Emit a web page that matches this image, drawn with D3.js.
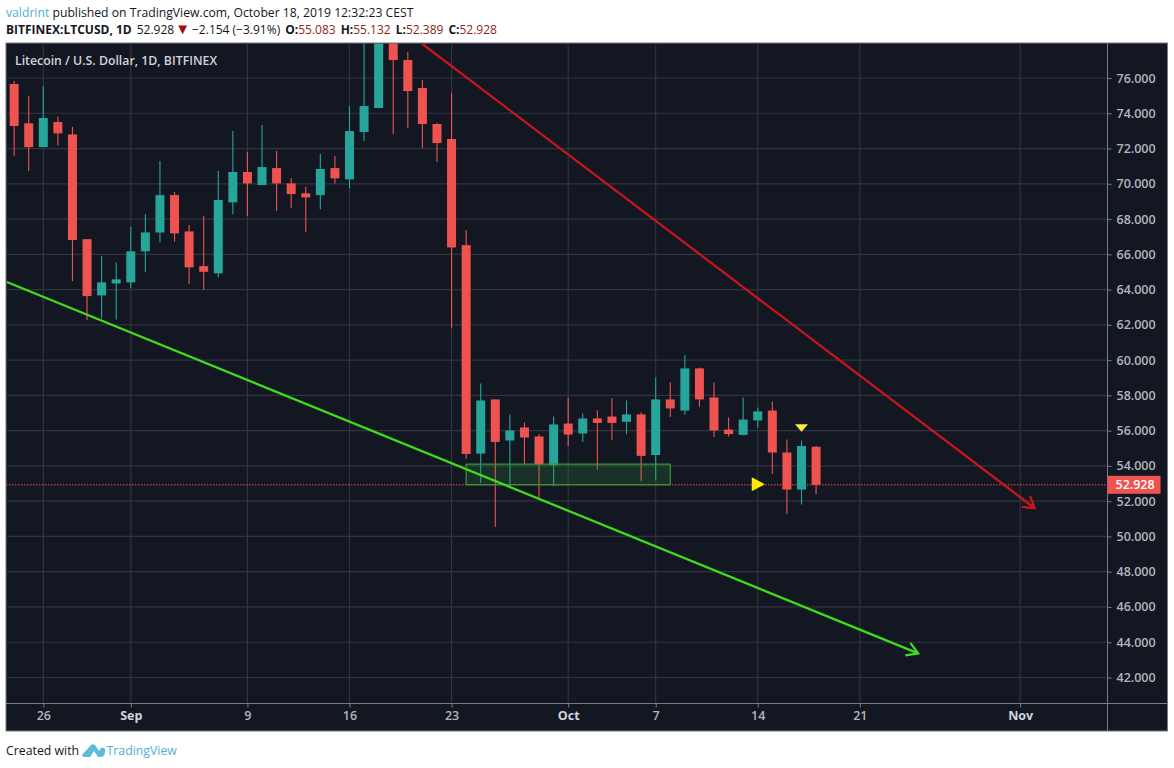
<!DOCTYPE html>
<html>
<head>
<meta charset="utf-8">
<script src="https://cdn.jsdelivr.net/npm/d3@7"></script>
<style>
  html, body { margin: 0; padding: 0; background: #fff; }
  svg { display: block; }
  text { font-family: "Open Sans", "Noto Sans", sans-serif; }
</style>
</head>
<body>
<svg id="chart" width="1174" height="768"></svg>
<script>
// one candle per day, starting 24 Aug 2019
var firstDay = "2019-08-24";
var opens = [75.66, 73.43, 72.08, 73.50, 72.80, 66.86, 63.67, 64.35, 64.41, 66.17, 67.24, 69.36, 67.30, 65.33, 64.92, 68.95,
  70.67, 69.93, 70.89, 70.02, 69.46, 69.36, 70.89, 70.25, 72.94, 74.30, 78.90, 77.02, 75.43, 73.39, 72.54, 66.52,
  54.70, 57.77, 55.44, 56.18, 55.67, 54.04, 56.40, 55.84, 56.69, 56.80, 56.50, 56.92, 54.62, 57.77, 57.14, 59.53,
  57.88, 56.06, 55.76, 56.58, 57.14, 54.76, 52.66, 55.083];
var highs = [75.83, 74.98, 75.55, 73.80, 73.22, 66.86, 65.90, 65.54, 67.55, 68.27, 71.29, 69.53, 67.66, 68.17, 70.72, 72.99,
  71.80, 73.33, 71.86, 70.31, 69.83, 71.69, 71.57, 74.41, 78.72, 80.20, 80.00, 77.48, 75.89, 73.43, 75.17, 67.37,
  58.67, 57.77, 56.92, 56.46, 55.80, 56.80, 57.88, 56.97, 57.16, 57.84, 57.71, 57.05, 59.01, 58.73, 60.28, 59.58,
  58.73, 56.75, 57.88, 57.31, 57.65, 55.50, 55.44, 55.132];
var lows = [71.58, 70.72, 72.08, 72.18, 64.48, 62.27, 62.36, 62.31, 64.07, 65.00, 66.68, 66.73, 64.31, 63.97, 64.69, 68.27,
  68.17, 69.93, 68.47, 68.61, 67.26, 68.55, 70.02, 69.74, 72.43, 74.30, 72.82, 73.16, 72.03, 71.23, 61.81, 54.40,
  53.03, 50.54, 52.89, 54.10, 52.21, 52.85, 55.13, 55.36, 53.79, 55.46, 55.80, 53.13, 53.19, 56.78, 56.92, 57.35,
  55.64, 55.67, 55.72, 56.16, 53.54, 51.27, 51.81, 52.389];
var closes = [73.28, 72.08, 73.73, 72.86, 66.81, 63.63, 64.41, 64.58, 66.17, 67.24, 69.36, 67.19, 65.26, 65.01, 69.08, 70.67,
  70.02, 70.95, 70.02, 69.42, 69.23, 70.84, 70.31, 72.99, 74.41, 78.90, 77.02, 75.26, 73.39, 72.31, 66.39, 54.68,
  57.71, 55.36, 56.01, 55.61, 54.10, 56.35, 55.78, 56.69, 56.44, 56.44, 56.92, 54.57, 57.77, 57.26, 59.53, 57.77,
  56.01, 55.81, 56.63, 57.09, 54.76, 52.66, 55.13, 52.928];

var priceTicks = [76, 74, 72, 70, 68, 66, 64, 62, 60, 58, 56, 54, 52, 50, 48, 46, 44, 42];
var lastPrice = 52.928;

var dateTicks = ["2019-08-26", "2019-09-01", "2019-09-09", "2019-09-16", "2019-09-23", "2019-10-01", "2019-10-07", "2019-10-14", "2019-10-21", "2019-11-01"];
var dateLabels = ["26", "Sep", "9", "16", "23", "Oct", "7", "14", "21", "Nov"];

// drawings on the chart, as [date, price]
var redLine = [["2019-09-21", 77.93], ["2019-11-02", 51.60]];
var greenLine = [["2019-08-23T12:00Z", 64.43], ["2019-10-25", 43.37]];
var boxDates = ["2019-09-24", "2019-10-08"];
var boxPrices = [54.10, 52.93];
var rightMarker = ["2019-10-14", 52.96];
var downMarker = ["2019-10-17", 56.17];

var upColor = "#26a69a", downColor = "#ef5350", bg = "#131722", gridColor = "#2f3441", axisColor = "#787b86", labelColor = "#b2b5be";

var left = 6, right = 1167.5, top_ = 43, bottom = 731, axisX = 1107.5, axisY = 703.5;

var svg = d3.select("#chart");
var parseDay = function (s) { return new Date(s.length > 10 ? s : s + "T00:00Z"); };
var DAY = 86400000;

var x = d3.scaleUtc().domain([parseDay("2019-08-26"), parseDay("2019-11-01")]).range([43.3, 1020.2]);
var y = d3.scaleLinear().domain([76, 42]).range([78, 677.5]);

// panel
svg.append("rect").attr("x", left).attr("y", top_).attr("width", right - left).attr("height", bottom - top_)
  .attr("fill", bg).attr("stroke", axisColor).attr("stroke-width", 1);

svg.append("clipPath").attr("id", "plot").append("rect")
  .attr("x", left + 0.5).attr("y", top_ + 0.5).attr("width", axisX - left - 1).attr("height", axisY - top_ - 1);

// grid
var grid = svg.append("g");
grid.selectAll("line.h").data(priceTicks).enter().append("line").attr("class", "h")
  .attr("x1", left).attr("x2", axisX).attr("y1", function (d) { return y(d); }).attr("y2", function (d) { return y(d); })
  .attr("stroke", gridColor).attr("stroke-width", 1.2);
grid.selectAll("line.v").data(dateTicks).enter().append("line").attr("class", "v")
  .attr("x1", function (d) { return x(parseDay(d)); }).attr("x2", function (d) { return x(parseDay(d)); })
  .attr("y1", top_).attr("y2", axisY)
  .attr("stroke", gridColor).attr("stroke-width", 1.2);

// axes
var yAxis = d3.axisRight(y).tickValues(priceTicks).tickFormat(d3.format(".3f")).tickSize(4).tickPadding(5);
var yG = svg.append("g").attr("transform", "translate(" + axisX + ",0)").call(yAxis);
yG.select(".domain").remove();
yG.selectAll("line").attr("stroke", axisColor);
yG.selectAll("text").attr("fill", labelColor).attr("font-size", 12.5).attr("font-weight", 600);
svg.append("line").attr("x1", axisX).attr("x2", axisX).attr("y1", top_).attr("y2", bottom).attr("stroke", axisColor);
svg.append("line").attr("x1", left).attr("x2", right).attr("y1", axisY).attr("y2", axisY).attr("stroke", axisColor);

var xAxis = d3.axisBottom(x).tickValues(dateTicks.map(parseDay))
  .tickFormat(function (d, i) { return dateLabels[i]; }).tickSize(4).tickPadding(4);
var xG = svg.append("g").attr("transform", "translate(0," + axisY + ")").call(xAxis);
xG.select(".domain").remove();
xG.selectAll("line").attr("stroke", axisColor);
xG.selectAll("text").attr("fill", function (d, i) { return isNaN(+dateLabels[i]) ? "#d1d4dc" : labelColor; })
  .attr("font-size", 12.5).attr("font-weight", function (d, i) { return isNaN(+dateLabels[i]) ? 700 : 600; });

// last price line
var plot = svg.append("g").attr("clip-path", "url(#plot)");
plot.append("line").attr("x1", left).attr("x2", axisX).attr("y1", y(lastPrice)).attr("y2", y(lastPrice))
  .attr("stroke", downColor).attr("stroke-dasharray", "1.5 1.5");

// candles
var candles = opens.map(function (o, i) {
  return { date: new Date(parseDay(firstDay).getTime() + i * DAY), o: o, h: highs[i], l: lows[i], c: closes[i] };
});
var candle = plot.selectAll("g.candle").data(candles).enter().append("g").attr("class", "candle");
candle.append("line")
  .attr("x1", function (d) { return x(d.date); }).attr("x2", function (d) { return x(d.date); })
  .attr("y1", function (d) { return y(d.h); }).attr("y2", function (d) { return y(d.l); })
  .attr("stroke", function (d) { return d.c >= d.o ? upColor : downColor; })
  .attr("stroke-width", 1.1);
candle.append("rect")
  .attr("x", function (d) { return x(d.date) - 4.5; }).attr("width", 9)
  .attr("y", function (d) { return y(Math.max(d.o, d.c)); })
  .attr("height", function (d) { return Math.max(1, Math.abs(y(d.o) - y(d.c))); })
  .attr("fill", function (d) { return d.c >= d.o ? upColor : downColor; });

// green support box
plot.append("rect")
  .attr("x", x(parseDay(boxDates[0]))).attr("width", x(parseDay(boxDates[1])) - x(parseDay(boxDates[0])))
  .attr("y", y(boxPrices[0])).attr("height", y(boxPrices[1]) - y(boxPrices[0]))
  .attr("fill", "#2e9e3a").attr("fill-opacity", 0.2).attr("stroke", "#3a9a38").attr("stroke-width", 1.2);

// trend lines with open arrow heads
function arrowLine(points, color) {
  var x1 = x(parseDay(points[0][0])), y1 = y(points[0][1]);
  var x2 = x(parseDay(points[1][0])), y2 = y(points[1][1]);
  var a = Math.atan2(y2 - y1, x2 - x1), len = 13, spread = 0.55;
  plot.append("path")
    .attr("d", "M" + x1 + "," + y1 + "L" + x2 + "," + y2 +
      "M" + (x2 - len * Math.cos(a - spread)) + "," + (y2 - len * Math.sin(a - spread)) + "L" + x2 + "," + y2 +
      "L" + (x2 - len * Math.cos(a + spread)) + "," + (y2 - len * Math.sin(a + spread)))
    .attr("fill", "none").attr("stroke", color).attr("stroke-width", 2.3);
}
arrowLine(redLine, "#c4161c");
arrowLine(greenLine, "#3fdc1e");

// yellow markers
plot.append("path").attr("d", "M-6,-7L7,0L-6,7Z")
  .attr("transform", "translate(" + x(parseDay(rightMarker[0])) + "," + y(rightMarker[1]) + ")")
  .attr("fill", "#ffeb00");
plot.append("path").attr("d", "M-6.5,-3.5L6.5,-3.5L0,4Z")
  .attr("transform", "translate(" + x(parseDay(downMarker[0])) + "," + y(downMarker[1]) + ")")
  .attr("fill", "#ffeb3b");

// price tag
svg.append("rect").attr("x", axisX).attr("y", y(lastPrice) - 9).attr("width", 53).attr("height", 18).attr("fill", downColor);
svg.append("text").attr("x", axisX + 8).attr("y", y(lastPrice) + 4.5).attr("fill", "#fff")
  .attr("font-size", 12.5).attr("font-weight", 600).text(d3.format(".3f")(lastPrice));

// title inside the chart
svg.append("text").attr("x", 15).attr("y", 65).attr("fill", "#d1d4dc").attr("font-size", 12.3).attr("font-weight", 600)
  .text("Litecoin / U.S. Dollar, 1D, BITFINEX");

// header
var line1 = svg.append("text").attr("x", 6).attr("y", 17).attr("font-size", 12.2).attr("fill", "#131722");
line1.append("tspan").attr("fill", "#53b0d3").text("valdrint");
line1.append("tspan").text(" published on TradingView.com, October 18, 2019 12:32:23 CEST");

var darkRed = "#8e1f22";
var line2 = svg.append("text").attr("x", 6).attr("y", 34).attr("font-size", 12).attr("fill", "#131722");
line2.append("tspan").attr("font-weight", 700).text("BITFINEX:LTCUSD, 1D");
line2.append("tspan").attr("dx", 5).text("52.928");
line2.append("tspan").attr("dx", 1).attr("fill", "#a00d0d").attr("font-size", 15).text("▼");
line2.append("tspan").attr("dx", 2).text("−2.154 (−3.91%)");
var ohlcNames = ["O:", "H:", "L:", "C:"];
var ohlcValues = ["55.083", "55.132", "52.389", "52.928"];
ohlcNames.forEach(function (n, i) {
  line2.append("tspan").attr("dx", 5).attr("font-weight", 700).text(n);
  line2.append("tspan").attr("fill", darkRed).text(ohlcValues[i]);
});

// footer
svg.append("text").attr("x", 6).attr("y", 755).attr("font-size", 12.3).attr("fill", "#131722").text("Created with");
svg.append("path").attr("d", "M82,755 L91,745 Q93,743.5 95,745 L99,751 L101,748 Q103,746.5 105,749 L105,752 Q105,757 100,757 L86,757 Q82,757 82,755 Z")
  .attr("fill", "#5bbcdc");
svg.append("path").attr("d", "M90,757 L94,751 L98,757 Z").attr("fill", "#fff");
svg.append("text").attr("x", 106.5).attr("y", 755).attr("font-size", 12.3).attr("fill", "#53b0d3").text("TradingView");
</script>
</body>
</html>
